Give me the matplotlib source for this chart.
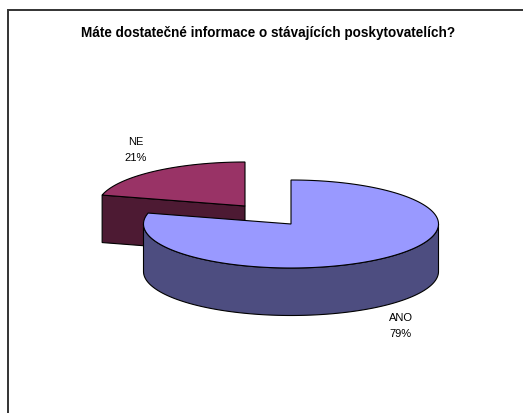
import numpy as np
import matplotlib
matplotlib.use("Agg")
import matplotlib.pyplot as plt
from matplotlib.patches import Polygon

categories = ["ANO", "NE"]
values = [79, 21]
title = "Máte dostatečné informace o stávajících poskytovatelích?"

W, H = 523, 414
plt.rcParams['font.family'] = ['Liberation Sans', 'DejaVu Sans']
fig = plt.figure(figsize=(W/100, H/100), dpi=100)
ax = fig.add_axes([0, 0, 1, 1])
ax.set_xlim(0, W); ax.set_ylim(H, 0); ax.axis('off')

a, b, depth = 147.5, 44.0, 47.5
edge = dict(edgecolor='black', linewidth=0.8, joinstyle='miter')

def pt(c, theta):
    return np.column_stack([c[0] + a*np.sin(theta), c[1] - b*np.cos(theta)])

split = 2*np.pi*values[0]/sum(values)
c_ano = (291.0, 225.0)
c_ne = (245.0, 207.0)

# NE slice (exploded), drawn first
th = np.linspace(split, 2*np.pi, 120)
arc = pt(c_ne, th)
left = arc[0]
ax.add_patch(Polygon([left, c_ne, (c_ne[0], c_ne[1]+depth), (left[0], left[1]+depth)],
                     closed=True, facecolor='#4D1A33', **edge))
ax.add_patch(Polygon(np.vstack([[c_ne], arc]), closed=True, facecolor='#993366', **edge))

# ANO slice: outer wall, then top face
th_w = np.linspace(np.pi/2, 3*np.pi/2, 200)
wall = pt(c_ano, th_w)
wall_low = wall[::-1] + [0, depth]
ax.add_patch(Polygon(np.vstack([wall, wall_low]), closed=True, facecolor='#4D4D80', **edge))
th_t = np.linspace(0, split, 300)
ax.add_patch(Polygon(np.vstack([[c_ano], pt(c_ano, th_t)]), closed=True, facecolor='#9999FF', **edge))

# Labels
label_pos = {"ANO": (400.5, 326), "NE": (136, 150)}
for cat, v in zip(categories, values):
    x, y = label_pos[cat]
    ax.text(x, y, f"{cat}\n{v}%", ha='center', va='center', fontsize=8, linespacing=1.85, color='black')

ax.text(268, 33, title, ha='center', va='center', fontsize=9.75, fontweight='bold', color='black')

# Chart frame (left and top edges are what shows)
ax.plot([8, 8, W], [H, 11, 11], color='#333333', linewidth=1.4, solid_joinstyle='miter')

fig.savefig("out.png", dpi=100, facecolor='white')
